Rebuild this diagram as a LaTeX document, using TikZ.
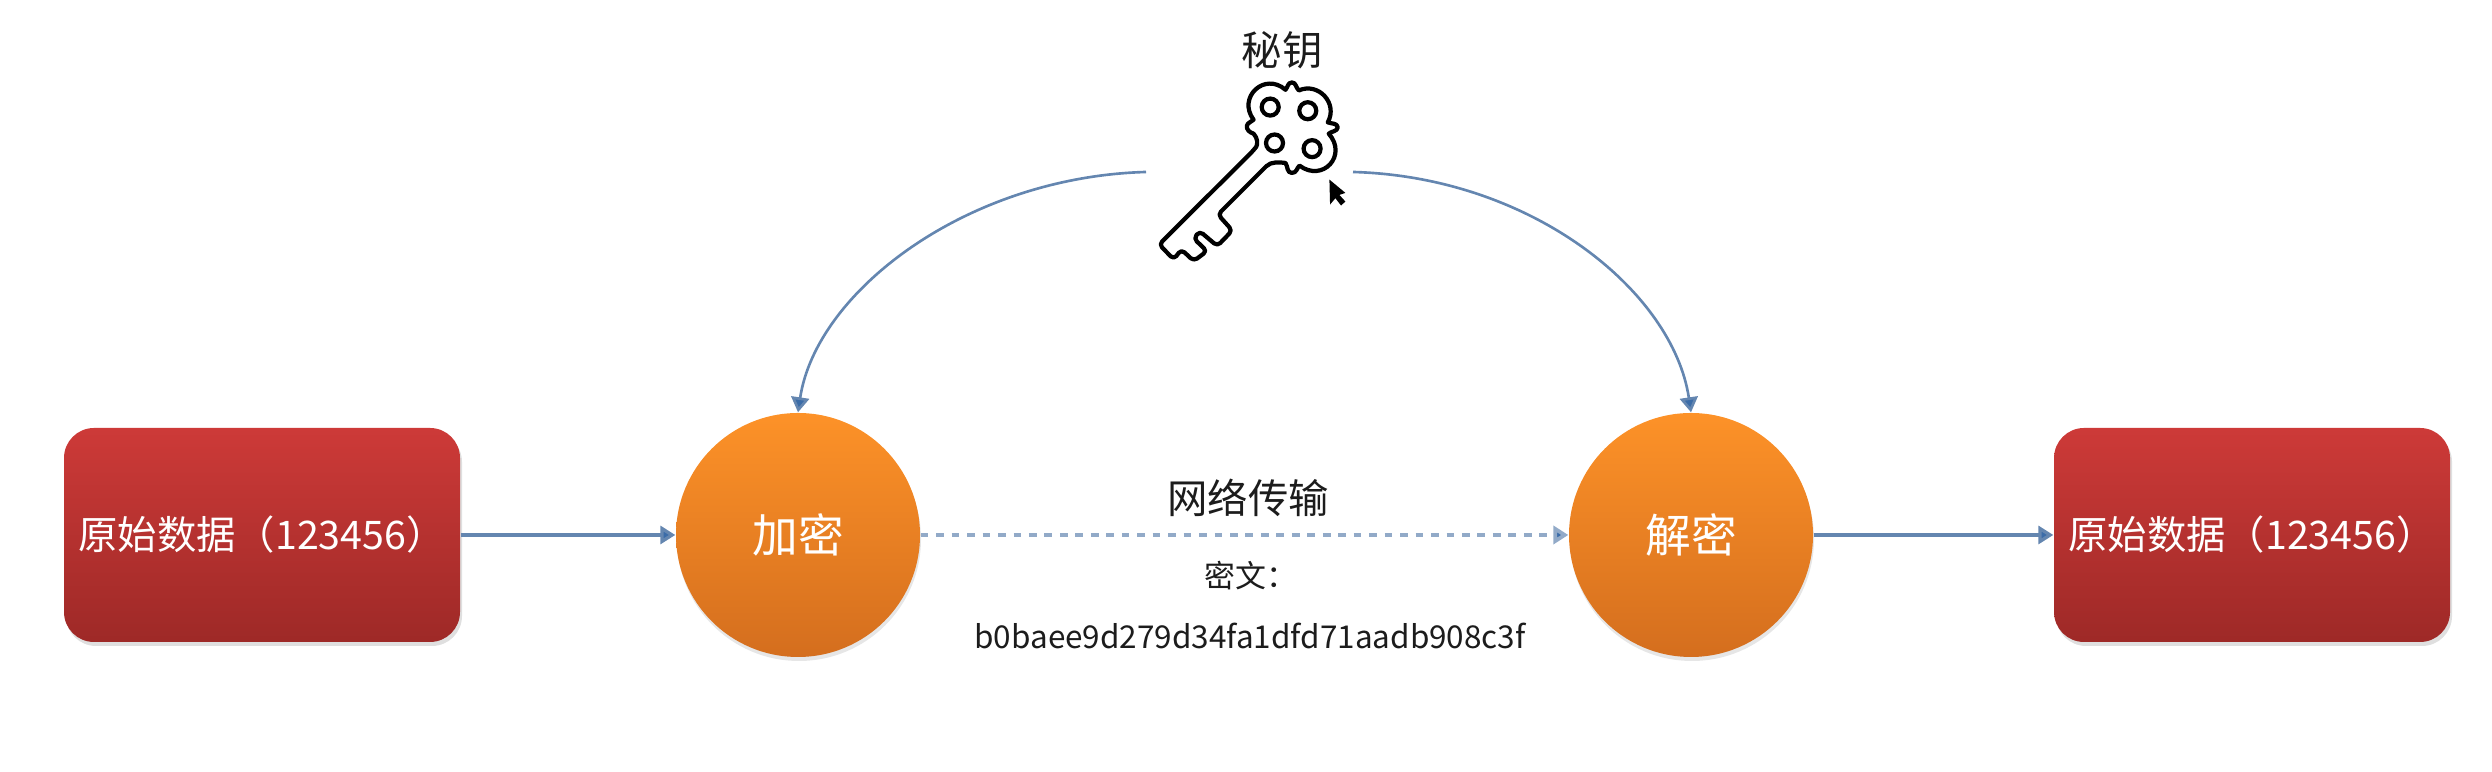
\documentclass[tikz,border=0pt]{standalone}
\usepackage{fontspec}
\setmainfont{Noto Sans CJK SC}
\usetikzlibrary{arrows.meta,shadows}

\definecolor{linkblue}{HTML}{6486B0}
\definecolor{tipblue}{HTML}{3B6CA8}
\definecolor{inktext}{HTML}{1C1C1C}

\tikzset{
	databox/.style={rectangle, rounded corners=0.3cm, minimum width=3.96cm, minimum height=2.14cm,
		inner sep=0pt, text=white, font=\fontsize{11.2}{14}\selectfont,
		top color={rgb,255:red,205;green,58;blue,56}, bottom color={rgb,255:red,158;green,41;blue,39},
		drop shadow={shadow xshift=0.02cm, shadow yshift=-0.04cm, opacity=0.25}},
	cryptnode/.style={circle, minimum size=2.44cm, inner sep=0pt, text=white, font=\fontsize{13}{16}\selectfont,
		top color={rgb,255:red,253;green,146;blue,40}, bottom color={rgb,255:red,212;green,110;blue,30},
		drop shadow={shadow xshift=0.01cm, shadow yshift=-0.04cm, opacity=0.2}},
	link/.style={draw=linkblue, line width=0.95pt, -{Triangle[length=0.15cm,width=0.18cm,fill=tipblue]}},
	keyline/.style={line width=1.2pt, line join=round}
}

\begin{document}
\begin{tikzpicture}[every node/.style={text=inktext}]
	\useasboundingbox (0,0) rectangle (24.92,7.72);
	
	% boxes and circles in the middle row
	\node[databox] (plainA) at (2.62,2.37) {原始数据（123456）};
	\node[cryptnode] (encrypt) at (7.98,2.37) {加密};
	\node[cryptnode] (decrypt) at (16.91,2.37) {解密};
	\node[databox] (plainB) at (22.52,2.37) {原始数据（123456）};
	
	% labels
	\node (secret) at (12.82,7.22) {\fontsize{11.5}{14}\selectfont 秘钥};
	\node (network) at (12.48,2.74) {\fontsize{11.5}{14}\selectfont 网络传输};
	\node (cipher) at (12.51,1.96) {\fontsize{8.8}{11}\selectfont 密文：};
	\node (hash) at (12.50,1.36) {\fontsize{8.95}{12}\selectfont b0baee9d279d34fa1dfd71aadb908c3f};
	
	% free ends beside the key
	\coordinate (keyL) at (11.46,6.00);
	\coordinate (keyR) at (13.53,6.00);
	
	% arrows
	\draw[link] (plainA) -- (encrypt);
	\draw[link, draw=linkblue!70, line width=1.1pt, dash pattern=on 2.2pt off 2.2pt] (encrypt) -- (decrypt);
	\draw[link] (decrypt) -- (plainB);
	\draw[link, line width=0.75pt] (keyL) .. controls (9.66,5.95) and (8.16,4.80) .. (encrypt.north);
	\draw[link, line width=0.75pt] (keyR) .. controls (15.33,5.95) and (16.73,4.80) .. (decrypt.north);
	
	% key, in pixels of the zoomed crop
	\begin{scope}[shift={(10.5cm,7.72cm)}, x=0.003333cm, y=-0.003333cm]
		\draw[keyline] (612,452) .. controls (625,435) and (625,415) .. (612,402)
		.. controls (600,398) and (590,390) .. (592,378)
		.. controls (594,368) and (605,368) .. (612,360)
		.. controls (562,293) and (645,215) .. (708,270)
		.. controls (715,262) and (715,248) .. (727,248)
		.. controls (740,248) and (738,262) .. (748,272)
		.. controls (807,246) and (867,311) .. (835,368)
		.. controls (845,372) and (865,370) .. (865,383)
		.. controls (865,395) and (845,395) .. (838,402)
		.. controls (896,467) and (820,550) .. (750,498)
		.. controls (742,505) and (742,520) .. (727,520)
		.. controls (712,520) and (715,500) .. (708,490)
		.. controls (690,488) and (665,485) .. (650,500)
		[rounded corners=1.2pt]
		-- (505,645) -- (548,693) -- (503,740) -- (450,695) -- (432,717)
		-- (472,755) -- (432,785) -- (395,750) -- (372,780) -- (328,735) -- cycle;
		\foreach \hx/\hy in {662/322, 775/333, 675/430, 788/447}
			\draw[line width=1.2pt] (\hx,\hy) circle (0.085cm);
		% mouse pointer
		\fill (840,540) -- (842,615) -- (858,596) -- (875,618) -- (888,606) -- (870,586) -- (888,580) -- cycle;
	\end{scope}
	
\end{tikzpicture}
\end{document}
